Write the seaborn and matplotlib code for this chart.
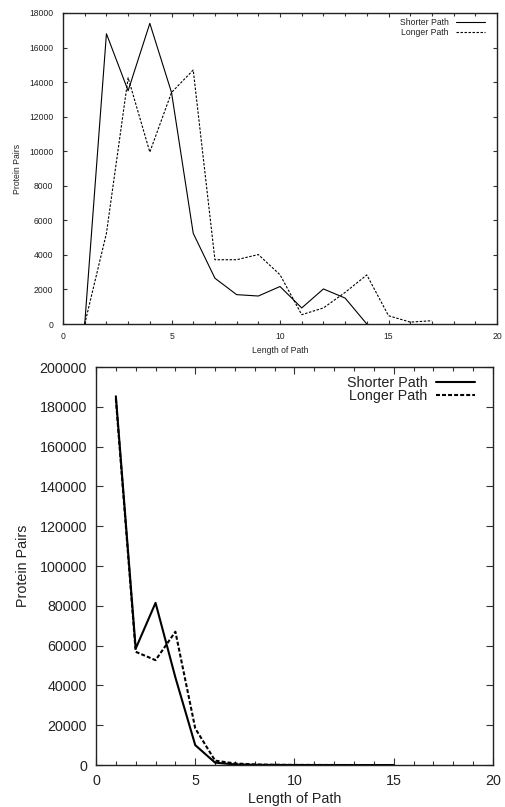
import numpy as np
import pandas as pd
import matplotlib
matplotlib.use("Agg")
import matplotlib.pyplot as plt
import seaborn as sns
from matplotlib.ticker import MultipleLocator

# top panel data
top_len_short = [1, 2, 3, 4, 5, 6, 7, 8, 9, 10, 11, 12, 13, 14]
top_short = [0, 16800, 13500, 17400, 13400, 5250, 2650, 1700, 1620, 2170, 930, 2030, 1500, 0]
top_len_long = [1, 2, 3, 4, 5, 6, 7, 8, 9, 10, 11, 12, 13, 14, 15, 16, 17]
top_long = [0, 5250, 14250, 9950, 13400, 14700, 3720, 3720, 4020, 2850, 540, 930, 1830, 2840, 480, 110, 190]

# bottom panel data
bot_len = [1, 2, 3, 4, 5, 6, 7, 8, 9, 10, 11, 12, 13, 14, 15]
bot_short = [185300, 58500, 81500, 44000, 10000, 1200, 300, 100, 50, 20, 10, 5, 2, 1, 0]
bot_long = [184000, 56900, 52700, 67000, 18400, 2200, 800, 300, 120, 60, 30, 15, 8, 4, 2]

sns.set_style("ticks")
plt.rcParams['font.family'] = ['Liberation Sans', 'DejaVu Sans']

fig = plt.figure(figsize=(5.05, 8.07), dpi=100)
ax1 = fig.add_axes([0.1248, 0.5985, 0.8594, 0.3854])
ax2 = fig.add_axes([0.1901, 0.052, 0.7861, 0.4932])


def draw(ax, xs, ys, xl, yl, lw, dash, fs, ymax, ystep, major_len, minor_len,
         xpad, ypad, anchor, hlen, hpad, lspace):
    sns.lineplot(x=xs, y=ys, ax=ax, color='black', linewidth=lw, label='Shorter Path')
    sns.lineplot(x=xl, y=yl, ax=ax, color='black', linewidth=lw, label='Longer Path',
                 linestyle=dash)
    ax.set_xlim(0, 20)
    ax.set_ylim(0, ymax)
    ax.xaxis.set_major_locator(MultipleLocator(5))
    ax.xaxis.set_minor_locator(MultipleLocator(1))
    ax.yaxis.set_major_locator(MultipleLocator(ystep))
    ax.tick_params(which='both', direction='in', top=True, right=True,
                   labelsize=fs, width=0.8, color='#333333', labelcolor='#222222')
    ax.tick_params(which='major', length=major_len)
    ax.tick_params(which='minor', length=minor_len)
    ax.tick_params(axis='x', pad=xpad)
    ax.tick_params(axis='y', pad=ypad)
    for s in ax.spines.values():
        s.set_linewidth(1.0)
        s.set_color('#222222')
    ax.set_xlabel('Length of Path', fontsize=fs, color='#222222')
    ax.set_ylabel('Protein Pairs', fontsize=fs, color='#222222')
    leg = ax.legend(loc='upper right', bbox_to_anchor=anchor, frameon=False,
                    markerfirst=False, fontsize=fs, handlelength=hlen,
                    handletextpad=hpad, borderaxespad=0, borderpad=0,
                    labelspacing=lspace)
    for t in leg.get_texts():
        t.set_color('#222222')


draw(ax1, top_len_short, top_short, top_len_long, top_long, 0.8, (0, (2.2, 1.4)),
     6.2, 18000, 2000, 3, 2, 5.5, 7, (0.972, 0.984), 3.4, 0.8, 0.15)
draw(ax2, bot_len, bot_short, bot_len, bot_long, 1.5, (0, (1.9, 1.0)),
     10.3, 200000, 20000, 5, 3, 6.5, 6.5, (0.955, 0.977), 2.7, 0.63, -0.1)

ax1.xaxis.labelpad = 4
ax1.yaxis.labelpad = 5
ax2.xaxis.labelpad = 3
ax2.yaxis.labelpad = 7

fig.savefig('out.png', dpi=100)
